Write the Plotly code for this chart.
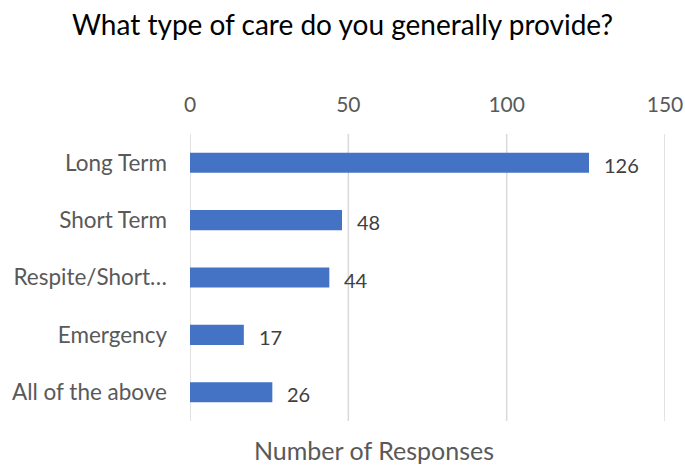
import plotly.graph_objs as go

categories = ["Long Term", "Short Term", "Respite/Short…", "Emergency", "All of the above"]
responses = [126, 48, 44, 17, 26]
x_ticks = [0, 50, 100, 150]

FONT = "Lato"

fig = go.Figure()
fig.add_trace(go.Bar(
    x=responses, y=categories, orientation="h",
    marker=dict(color="#4472C4", line=dict(width=0)),
    width=0.35,
))

# vertical gridlines, including the ones on the plot edges (0 and 150)
for t in x_ticks:
    fig.add_vline(x=t, line=dict(color="#D9D9D9", width=1.5), layer="below")

# data labels sit a bit right of each bar end
for val, cat in zip(responses, categories):
    fig.add_annotation(x=val, y=cat, text=str(val), showarrow=False,
                       xanchor="left", xshift=13, yshift=-2,
                       font=dict(family=FONT, size=20, color="#404040"))

fig.update_layout(
    width=685, height=466,
    margin=dict(l=190, r=20, t=134, b=45),
    paper_bgcolor="white", plot_bgcolor="white",
    showlegend=False,
    font=dict(family=FONT, color="#595959"),
    title=dict(text="What type of care do you generally provide?",
               x=0.5, xanchor="center", y=1 - 25 / 466, yanchor="middle",
               font=dict(family=FONT, size=28, color="#000000")),
    xaxis=dict(side="top", range=[0, 150], tickvals=x_ticks,
               showgrid=False, zeroline=False, showline=False, ticks="",
               tickfont=dict(size=21, color="#595959"),
               ticklabelstandoff=17, automargin=False),
    yaxis=dict(autorange="reversed", showgrid=False, zeroline=False,
               showline=False, ticks="",
               tickfont=dict(size=22.5, color="#595959"),
               ticklabelstandoff=22, automargin=False),
)

fig.add_annotation(text="Number of Responses", xref="paper", yref="paper",
                   x=(374 - 190) / 475, y=0, showarrow=False,
                   xanchor="center", yanchor="middle", yshift=-29,
                   font=dict(family=FONT, size=25, color="#595959"))

# drop the default 8px body margin so the figure sits at the window corner
fig.write_html("out.html", config={"displayModeBar": False},
               post_script="document.body.style.margin='0';")
